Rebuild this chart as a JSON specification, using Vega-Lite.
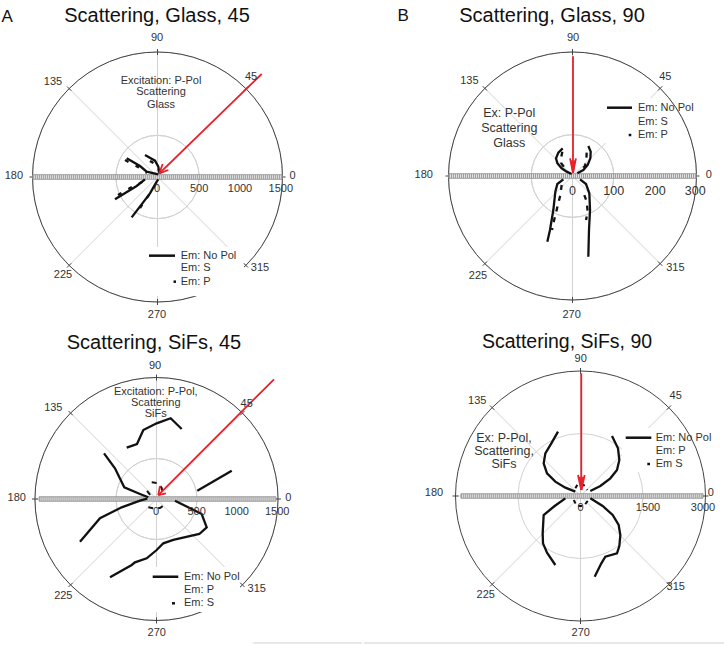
{
"$schema":"https://vega.github.io/schema/vega-lite/v6.json",
"padding":0,
"spacing":0,
"config":{"view":{"stroke":null},"font":"Liberation Sans","text":{"font":"Liberation Sans"}},
"vconcat":[
{"hconcat":[
{"width":362,"height":322,
"encoding":{"x":{"field":"x","type":"quantitative","scale":{"domain":[-1890,2454],"nice":false,"zero":false},"axis":null},"y":{"field":"y","type":"quantitative","scale":{"domain":[-1740,2124],"nice":false,"zero":false},"axis":null}},
"layer":[
{"data":{"values":[{"x":0,"y":0,"x2":1500,"y2":0},{"x":0,"y":0,"x2":1060.7,"y2":1060.7},{"x":0,"y":0,"x2":0,"y2":1500},{"x":0,"y":0,"x2":-1060.7,"y2":1060.7},{"x":0,"y":0,"x2":-1500,"y2":0},{"x":0,"y":0,"x2":-1060.7,"y2":-1060.7},{"x":0,"y":0,"x2":0,"y2":-1500},{"x":0,"y":0,"x2":1060.7,"y2":-1060.7}]},"mark":{"type":"rule","color":"#d2d2d2","strokeWidth":1},"encoding":{"x2":{"field":"x2"},"y2":{"field":"y2"}}},
{"data":{"values":[{"x":0,"y":0,"r":500},{"x":0,"y":0,"r":1000}]},"mark":{"type":"arc","theta":0,"theta2":6.2832,"filled":false,"stroke":"#d2d2d2","strokeWidth":1},"encoding":{"radius":{"field":"r","type":"quantitative","scale":{"type":"linear","domain":[0,1500],"range":[0,125],"zero":true},"legend":null}}},
{"data":{"values":[{"x":0,"y":0,"r":1500}]},"mark":{"type":"arc","theta":0,"theta2":6.2832,"filled":false,"stroke":"#444","strokeWidth":1},"encoding":{"radius":{"field":"r","type":"quantitative","scale":{"type":"linear","domain":[0,1500],"range":[0,125],"zero":true},"legend":null}}},
{"data":{"values":[{"x":-138,"x2":1038,"y":-840,"y2":-1428}]},"mark":{"type":"rect","fill":"white"},"encoding":{"x2":{"field":"x2"},"y2":{"field":"y2"}}},
{"data":{"values":[{"x":1464,"y":0,"x2":1536,"y2":0},{"x":1035.2,"y":1035.2,"x2":1086.1,"y2":1086.1},{"x":0,"y":1464,"x2":0,"y2":1536},{"x":-1035.2,"y":1035.2,"x2":-1086.1,"y2":1086.1},{"x":-1464,"y":0,"x2":-1536,"y2":0},{"x":-1035.2,"y":-1035.2,"x2":-1086.1,"y2":-1086.1},{"x":0,"y":-1464,"x2":0,"y2":-1536},{"x":1035.2,"y":-1035.2,"x2":1086.1,"y2":-1086.1}]},"mark":{"type":"rule","color":"#444","strokeWidth":1},"encoding":{"x2":{"field":"x2"},"y2":{"field":"y2"}}},
{"data":{"values":[{"x":-1500,"x2":1500,"y":-28,"y2":28}]},"mark":{"type":"rect","fill":"#e6e6e6","stroke":"#777","strokeWidth":0.7},"encoding":{"x2":{"field":"x2"},"y2":{"field":"y2"}}},
{"data":{"values":[{"x":-1496,"x2":1496,"y":0}]},"mark":{"type":"rule","color":"#9a9a9a","strokeWidth":4,"strokeDash":[1,1]},"encoding":{"x2":{"field":"x2"}}},
{"data":{"values":[{"s":"a","o":1,"x":-370,"y":224},{"s":"a","o":2,"x":-210,"y":132},{"s":"a","o":3,"x":-130,"y":64},{"s":"a","o":4,"x":10,"y":32},{"s":"b","o":1,"x":-150,"y":264},{"s":"b","o":2,"x":-30,"y":196},{"s":"b","o":3,"x":10,"y":124},{"s":"b","o":4,"x":22,"y":44},{"s":"c","o":1,"x":-510,"y":-268},{"s":"c","o":2,"x":-250,"y":-108},{"s":"c","o":3,"x":-150,"y":-28},{"s":"d","o":1,"x":-310,"y":-484},{"s":"d","o":2,"x":-90,"y":-196},{"s":"d","o":3,"x":-10,"y":-56},{"s":"d","o":4,"x":10,"y":-28}]},"mark":{"type":"line","color":"#111","strokeWidth":2.3},"encoding":{"detail":{"field":"s"},"order":{"field":"o"}}},
{"data":{"values":[{"s":"a","o":1,"x":-390,"y":204},{"s":"a","o":2,"x":-222,"y":114},{"s":"a","o":3,"x":-126,"y":48},{"s":"b","o":1,"x":-90,"y":192},{"s":"b","o":2,"x":-30,"y":156},{"s":"b","o":3,"x":6,"y":84},{"s":"c","o":1,"x":-474,"y":-216},{"s":"c","o":2,"x":-330,"y":-132},{"s":"c","o":3,"x":-162,"y":-48},{"s":"d","o":1,"x":-210,"y":-372},{"s":"d","o":2,"x":-78,"y":-180},{"s":"d","o":3,"x":-6,"y":-60}]},"mark":{"type":"line","color":"#111","strokeWidth":2.3,"strokeDash":[4,8]},"encoding":{"detail":{"field":"s"},"order":{"field":"o"}}},
{"data":{"values":[{"x":1250,"y":1236,"x2":22,"y2":44},{"x":62,"y":156,"x2":22,"y2":44},{"x":130,"y":84,"x2":22,"y2":44}]},"mark":{"type":"rule","color":"#e8202a","strokeWidth":1.8},"encoding":{"x2":{"field":"x2"},"y2":{"field":"y2"}}},
{"data":{"values":[{"x":-102,"x2":210,"y":-944},{"x":192,"x2":222,"y":-1256}]},"mark":{"type":"rule","color":"#111","strokeWidth":2.5},"encoding":{"x2":{"field":"x2"}}},
{"data":{"values":[{"t":"90","x":-6,"y":1668},{"t":"45","x":1122,"y":1200},{"t":"135","x":-1254,"y":1140},{"t":"180","x":-1724,"y":12},{"t":"0","x":1620,"y":12},{"t":"225","x":-1134,"y":-1176},{"t":"315","x":1230,"y":-1092},{"t":"270","x":-6,"y":-1656}]},"mark":{"type":"text","fontSize":11,"fill":"#333","align":"center","baseline":"middle"},"encoding":{"text":{"field":"t"}}},
{"data":{"values":[{"t":"0","x":-6,"y":-144},{"t":"500","x":500,"y":-144},{"t":"1000","x":990,"y":-144},{"t":"1500","x":1480,"y":-144}]},"mark":{"type":"text","fontSize":11,"fill":"#333","align":"center","baseline":"middle"},"encoding":{"text":{"field":"t"}}},
{"data":{"values":[{"t":"Em: No Pol","x":278,"y":-944},{"t":"Em: S","x":278,"y":-1096},{"t":"Em: P","x":278,"y":-1256}]},"mark":{"type":"text","fontSize":11,"fill":"#333","align":"left","baseline":"middle"},"encoding":{"text":{"field":"t"}}},
{"data":{"values":[{"t":"Excitation: P-Pol","x":42,"y":1156},{"t":"Scattering","x":42,"y":1016},{"t":"Glass","x":42,"y":864}]},"mark":{"type":"text","fontSize":11,"fill":"#333","align":"center","baseline":"middle"},"encoding":{"text":{"field":"t"}}},
{"data":{"values":[{"t":"Scattering, Glass, 45","x":-6,"y":1932}]},"mark":{"type":"text","fontSize":20,"fill":"#111","align":"center","baseline":"middle"},"encoding":{"text":{"field":"t"}}},
{"data":{"values":[{"t":"A","x":-1804,"y":1920}]},"mark":{"type":"text","fontSize":17,"fill":"#111","align":"center","baseline":"middle"},"encoding":{"text":{"field":"t"}}}
]},
{"width":362,"height":322,
"encoding":{"x":{"field":"x","type":"quantitative","scale":{"domain":[-509.4,366.6],"nice":false,"zero":false},"axis":null},"y":{"field":"y","type":"quantitative","scale":{"domain":[-353.3,425.9],"nice":false,"zero":false},"axis":null}},
"layer":[
{"data":{"values":[{"x":0,"y":0,"x2":300,"y2":0},{"x":0,"y":0,"x2":212.1,"y2":212.1},{"x":0,"y":0,"x2":0,"y2":300},{"x":0,"y":0,"x2":-212.1,"y2":212.1},{"x":0,"y":0,"x2":-300,"y2":0},{"x":0,"y":0,"x2":-212.1,"y2":-212.1},{"x":0,"y":0,"x2":0,"y2":-300},{"x":0,"y":0,"x2":212.1,"y2":-212.1}]},"mark":{"type":"rule","color":"#d2d2d2","strokeWidth":1},"encoding":{"x2":{"field":"x2"},"y2":{"field":"y2"}}},
{"data":{"values":[{"x":0,"y":0,"r":100},{"x":0,"y":0,"r":200}]},"mark":{"type":"arc","theta":0,"theta2":6.2832,"filled":false,"stroke":"#d2d2d2","strokeWidth":1},"encoding":{"radius":{"field":"r","type":"quantitative","scale":{"type":"linear","domain":[0,300],"range":[0,124],"zero":true},"legend":null}}},
{"data":{"values":[{"x":0,"y":0,"r":300}]},"mark":{"type":"arc","theta":0,"theta2":6.2832,"filled":false,"stroke":"#444","strokeWidth":1},"encoding":{"radius":{"field":"r","type":"quantitative","scale":{"type":"linear","domain":[0,300],"range":[0,124],"zero":true},"legend":null}}},
{"data":{"values":[{"x":73.8,"x2":211.8,"y":79.9,"y2":188.8}]},"mark":{"type":"rect","fill":"white"},"encoding":{"x2":{"field":"x2"},"y2":{"field":"y2"}}},
{"data":{"values":[{"x":292.7,"y":0,"x2":307.3,"y2":0},{"x":207,"y":207,"x2":217.3,"y2":217.3},{"x":0,"y":292.7,"x2":0,"y2":307.3},{"x":-207,"y":207,"x2":-217.3,"y2":217.3},{"x":-292.7,"y":0,"x2":-307.3,"y2":0},{"x":-207,"y":-207,"x2":-217.3,"y2":-217.3},{"x":0,"y":-292.7,"x2":0,"y2":-307.3},{"x":207,"y":-207,"x2":217.3,"y2":-217.3}]},"mark":{"type":"rule","color":"#444","strokeWidth":1},"encoding":{"x2":{"field":"x2"},"y2":{"field":"y2"}}},
{"data":{"values":[{"x":-300,"x2":300,"y":-5.6,"y2":5.6}]},"mark":{"type":"rect","fill":"#e6e6e6","stroke":"#777","strokeWidth":0.7},"encoding":{"x2":{"field":"x2"},"y2":{"field":"y2"}}},
{"data":{"values":[{"x":-299,"x2":299,"y":0}]},"mark":{"type":"rule","color":"#9a9a9a","strokeWidth":4,"strokeDash":[1,1]},"encoding":{"x2":{"field":"x2"}}},
{"data":{"values":[{"s":"a","o":1,"x":-23.8,"y":67},{"s":"a","o":2,"x":-34.3,"y":56.5},{"s":"a","o":3,"x":-39.9,"y":42.8},{"s":"a","o":4,"x":-36.7,"y":30.7},{"s":"a","o":5,"x":-26.2,"y":18.6},{"s":"a","o":6,"x":-14.1,"y":10.5},{"s":"a","o":7,"x":-2,"y":4.8},{"s":"b","o":1,"x":38.3,"y":72.6},{"s":"b","o":2,"x":44,"y":58.9},{"s":"b","o":3,"x":43.2,"y":42.8},{"s":"b","o":4,"x":36.7,"y":26.6},{"s":"b","o":5,"x":26.2,"y":14.5},{"s":"b","o":6,"x":11.7,"y":6.5},{"s":"c","o":1,"x":-22.2,"y":-8.1},{"s":"c","o":2,"x":-36.7,"y":-19.4},{"s":"c","o":3,"x":-41.5,"y":-37.9},{"s":"c","o":4,"x":-46.4,"y":-82.3},{"s":"c","o":5,"x":-54.5,"y":-130.7},{"s":"c","o":6,"x":-60.9,"y":-158.9},{"s":"d","o":1,"x":18.2,"y":-8.1},{"s":"d","o":2,"x":32.7,"y":-19.4},{"s":"d","o":3,"x":40.7,"y":-41.9},{"s":"d","o":4,"x":42.4,"y":-82.3},{"s":"d","o":5,"x":39.9,"y":-130.7},{"s":"d","o":6,"x":38.3,"y":-195.2}]},"mark":{"type":"line","color":"#111","strokeWidth":2.3},"encoding":{"detail":{"field":"s"},"order":{"field":"o"}}},
{"data":{"values":[{"s":"a","o":1,"x":-24.6,"y":58.9},{"s":"a","o":2,"x":-27.8,"y":42.8},{"s":"a","o":3,"x":-27,"y":30.7},{"s":"a","o":4,"x":-18.2,"y":18.6},{"s":"b","o":1,"x":34.3,"y":56.5},{"s":"b","o":2,"x":33.5,"y":40.3},{"s":"b","o":3,"x":30.3,"y":24.2},{"s":"b","o":4,"x":22.2,"y":16.1},{"s":"c","o":1,"x":-26.2,"y":-21.8},{"s":"c","o":2,"x":-29.4,"y":-46},{"s":"c","o":3,"x":-46.4,"y":-114.5},{"s":"c","o":4,"x":-49.6,"y":-130.7},{"s":"d","o":1,"x":28.6,"y":-46},{"s":"d","o":2,"x":34.3,"y":-62.1},{"s":"d","o":3,"x":36.7,"y":-86.3},{"s":"d","o":4,"x":32.7,"y":-106.5}]},"mark":{"type":"line","color":"#111","strokeWidth":2.3,"strokeDash":[5,6]},"encoding":{"detail":{"field":"s"},"order":{"field":"o"}}},
{"data":{"values":[{"x":1.2,"y":290,"x2":1.2,"y2":8},{"x":-6,"y":42.8,"x2":1.2,"y2":8},{"x":8.4,"y":42.8,"x2":1.2,"y2":8},{"x":-2.4,"y":38,"x2":1.2,"y2":8},{"x":4.8,"y":38,"x2":1.2,"y2":8}]},"mark":{"type":"rule","color":"#e8202a","strokeWidth":1.8},"encoding":{"x2":{"field":"x2"},"y2":{"field":"y2"}}},
{"data":{"values":[{"x":83.5,"x2":144,"y":165.3},{"x":136,"x2":142.3,"y":99.2}]},"mark":{"type":"rule","color":"#111","strokeWidth":2.5},"encoding":{"x2":{"field":"x2"}}},
{"data":{"values":[{"t":"90","x":1.2,"y":334.7},{"t":"45","x":224.6,"y":238.8},{"t":"135","x":-249.7,"y":229.9},{"t":"180","x":-360,"y":2.4},{"t":"0","x":329.6,"y":2.4},{"t":"225","x":-228.7,"y":-242},{"t":"315","x":248.8,"y":-223.4},{"t":"270","x":-2,"y":-335.7}]},"mark":{"type":"text","fontSize":11,"fill":"#333","align":"center","baseline":"middle"},"encoding":{"text":{"field":"t"}}},
{"data":{"values":[{"t":"0","x":0,"y":-36.3},{"t":"100","x":99.7,"y":-36.3},{"t":"200","x":200,"y":-36.3},{"t":"300","x":297,"y":-36.3}]},"mark":{"type":"text","fontSize":12.5,"fill":"#333","align":"center","baseline":"middle"},"encoding":{"text":{"field":"t"}}},
{"data":{"values":[{"t":"Em: No Pol","x":158.5,"y":165.3},{"t":"Em: S","x":158.5,"y":131.4},{"t":"Em: P","x":158.5,"y":99.2}]},"mark":{"type":"text","fontSize":11,"fill":"#333","align":"left","baseline":"middle"},"encoding":{"text":{"field":"t"}}},
{"data":{"values":[{"t":"Ex: P-Pol","x":-153,"y":151.7},{"t":"Scattering","x":-153,"y":115.4},{"t":"Glass","x":-153,"y":79.1}]},"mark":{"type":"text","fontSize":12.5,"fill":"#333","align":"center","baseline":"middle"},"encoding":{"text":{"field":"t"}}},
{"data":{"values":[{"t":"Scattering, Glass, 90","x":-49.6,"y":387}]},"mark":{"type":"text","fontSize":20,"fill":"#111","align":"center","baseline":"middle"},"encoding":{"text":{"field":"t"}}},
{"data":{"values":[{"t":"B","x":-409.5,"y":387}]},"mark":{"type":"text","fontSize":17,"fill":"#111","align":"center","baseline":"middle"},"encoding":{"text":{"field":"t"}}}
]}
],"spacing":0},
{"hconcat":[
{"width":362,"height":323,
"encoding":{"x":{"field":"x","type":"quantitative","scale":{"domain":[-1932.8,2537.9],"nice":false,"zero":false},"axis":null},"y":{"field":"y","type":"quantitative","scale":{"domain":[-1803.1,2186],"nice":false,"zero":false},"axis":null}},
"layer":[
{"data":{"values":[{"x":0,"y":0,"x2":1500,"y2":0},{"x":0,"y":0,"x2":1060.7,"y2":1060.7},{"x":0,"y":0,"x2":0,"y2":1500},{"x":0,"y":0,"x2":-1060.7,"y2":1060.7},{"x":0,"y":0,"x2":-1500,"y2":0},{"x":0,"y":0,"x2":-1060.7,"y2":-1060.7},{"x":0,"y":0,"x2":0,"y2":-1500},{"x":0,"y":0,"x2":1060.7,"y2":-1060.7}]},"mark":{"type":"rule","color":"#d2d2d2","strokeWidth":1},"encoding":{"x2":{"field":"x2"},"y2":{"field":"y2"}}},
{"data":{"values":[{"x":0,"y":0,"r":500},{"x":0,"y":0,"r":1000}]},"mark":{"type":"arc","theta":0,"theta2":6.2832,"filled":false,"stroke":"#d2d2d2","strokeWidth":1},"encoding":{"radius":{"field":"r","type":"quantitative","scale":{"type":"linear","domain":[0,1500],"range":[0,121.5],"zero":true},"legend":null}}},
{"data":{"values":[{"x":0,"y":0,"r":1500}]},"mark":{"type":"arc","theta":0,"theta2":6.2832,"filled":false,"stroke":"#444","strokeWidth":1},"encoding":{"radius":{"field":"r","type":"quantitative","scale":{"type":"linear","domain":[0,1500],"range":[0,121.5],"zero":true},"legend":null}}},
{"data":{"values":[{"x":-105,"x2":1031,"y":-840,"y2":-1396}]},"mark":{"type":"rect","fill":"white"},"encoding":{"x2":{"field":"x2"},"y2":{"field":"y2"}}},
{"data":{"values":[{"x":1463,"y":0,"x2":1537,"y2":0},{"x":1034.5,"y":1034.5,"x2":1086.8,"y2":1086.8},{"x":0,"y":1463,"x2":0,"y2":1537},{"x":-1034.5,"y":1034.5,"x2":-1086.8,"y2":1086.8},{"x":-1463,"y":0,"x2":-1537,"y2":0},{"x":-1034.5,"y":-1034.5,"x2":-1086.8,"y2":-1086.8},{"x":0,"y":-1463,"x2":0,"y2":-1537},{"x":1034.5,"y":-1034.5,"x2":1086.8,"y2":-1086.8}]},"mark":{"type":"rule","color":"#444","strokeWidth":1},"encoding":{"x2":{"field":"x2"},"y2":{"field":"y2"}}},
{"data":{"values":[{"x":-1450,"x2":1475,"y":-28,"y2":28}]},"mark":{"type":"rect","fill":"#e6e6e6","stroke":"#777","strokeWidth":0.7},"encoding":{"x2":{"field":"x2"},"y2":{"field":"y2"}}},
{"data":{"values":[{"x":-1446,"x2":1471,"y":0}]},"mark":{"type":"rule","color":"#9a9a9a","strokeWidth":4,"strokeDash":[1,1]},"encoding":{"x2":{"field":"x2"}}},
{"data":{"values":[{"x":1192,"x2":2538,"y":-1778}]},"mark":{"type":"rule","color":"#cfcfcf","strokeWidth":1},"encoding":{"x2":{"field":"x2"}}},
{"data":{"values":[{"s":"a","o":1,"x":-368,"y":634},{"s":"a","o":2,"x":-241,"y":679},{"s":"a","o":3,"x":-163,"y":852},{"s":"a","o":4,"x":2,"y":935},{"s":"a","o":5,"x":175,"y":997},{"s":"a","o":6,"x":311,"y":865},{"s":"b","o":1,"x":-648,"y":564},{"s":"b","o":2,"x":-513,"y":379},{"s":"b","o":3,"x":-398,"y":144},{"s":"b","o":4,"x":-204,"y":62},{"s":"b","o":5,"x":-101,"y":21},{"s":"c","o":1,"x":504,"y":103},{"s":"c","o":2,"x":929,"y":350},{"s":"d","o":1,"x":-945,"y":-527},{"s":"d","o":2,"x":-698,"y":-238},{"s":"d","o":3,"x":-430,"y":-103},{"s":"d","o":4,"x":-204,"y":-21},{"s":"d","o":5,"x":-114,"y":4},{"s":"e","o":1,"x":228,"y":-21},{"s":"e","o":2,"x":558,"y":-185},{"s":"e","o":3,"x":620,"y":-350},{"s":"e","o":4,"x":529,"y":-432},{"s":"e","o":5,"x":207,"y":-506},{"s":"e","o":6,"x":84,"y":-547},{"s":"e","o":7,"x":2,"y":-630},{"s":"e","o":8,"x":-121,"y":-732},{"s":"e","o":9,"x":-266,"y":-782},{"s":"e","o":10,"x":-306,"y":-815},{"s":"e","o":11,"x":-574,"y":-967}]},"mark":{"type":"line","color":"#111","strokeWidth":2.3},"encoding":{"detail":{"field":"s"},"order":{"field":"o"}}},
{"data":{"values":[{"s":"a","o":1,"x":-59,"y":206},{"s":"a","o":2,"x":19,"y":194},{"s":"a","o":3,"x":64,"y":136},{"s":"a","o":4,"x":80,"y":49},{"s":"b","o":1,"x":-101,"y":-103},{"s":"b","o":2,"x":-43,"y":-115},{"s":"b","o":3,"x":43,"y":-111},{"s":"b","o":4,"x":117,"y":-62},{"s":"c","o":1,"x":-117,"y":99},{"s":"c","o":2,"x":-68,"y":37}]},"mark":{"type":"line","color":"#111","strokeWidth":2,"strokeDash":[5,5]},"encoding":{"detail":{"field":"s"},"order":{"field":"o"}}},
{"data":{"values":[{"x":1451,"y":1478,"x2":22,"y2":49},{"x":43,"y":160,"x2":22,"y2":49},{"x":117,"y":70,"x2":22,"y2":49}]},"mark":{"type":"rule","color":"#e8202a","strokeWidth":1.8},"encoding":{"x2":{"field":"x2"},"y2":{"field":"y2"}}},
{"data":{"values":[{"x":-47,"x2":269,"y":-960},{"x":191,"x2":228,"y":-1288}]},"mark":{"type":"rule","color":"#111","strokeWidth":2.5},"encoding":{"x2":{"field":"x2"}}},
{"data":{"values":[{"t":"90","x":-18.5,"y":1642.6},{"t":"45","x":1114,"y":1169.5},{"t":"135","x":-1274.5,"y":1120},{"t":"180","x":-1726.5,"y":8.6},{"t":"0","x":1627.7,"y":8.6},{"t":"225","x":-1151,"y":-1198},{"t":"315","x":1237.5,"y":-1115},{"t":"270","x":2.5,"y":-1651}]},"mark":{"type":"text","fontSize":11,"fill":"#333","align":"center","baseline":"middle"},"encoding":{"text":{"field":"t"}}},
{"data":{"values":[{"t":"0","x":-6,"y":-160},{"t":"500","x":496,"y":-160},{"t":"1000","x":990,"y":-160},{"t":"1500","x":1490,"y":-160}]},"mark":{"type":"text","fontSize":11,"fill":"#333","align":"center","baseline":"middle"},"encoding":{"text":{"field":"t"}}},
{"data":{"values":[{"t":"Em: No Pol","x":340,"y":-960},{"t":"Em: P","x":340,"y":-1124},{"t":"Em: S","x":340,"y":-1288}]},"mark":{"type":"text","fontSize":11,"fill":"#333","align":"left","baseline":"middle"},"encoding":{"text":{"field":"t"}}},
{"data":{"values":[{"t":"Excitation: P-Pol,","x":-9,"y":1325},{"t":"Scattering","x":-9,"y":1182},{"t":"SiFs","x":-9,"y":1046}]},"mark":{"type":"text","fontSize":11,"fill":"#333","align":"center","baseline":"middle"},"encoding":{"text":{"field":"t"}}},
{"data":{"values":[{"t":"Scattering, SiFs, 45","x":-31,"y":1927}]},"mark":{"type":"text","fontSize":20,"fill":"#111","align":"center","baseline":"middle"},"encoding":{"text":{"field":"t"}}}
]},
{"width":362,"height":323,
"encoding":{"x":{"field":"x","type":"quantitative","scale":{"domain":[-5196,3492],"nice":false,"zero":false},"axis":null},"y":{"field":"y","type":"quantitative","scale":{"domain":[-3576,4176],"nice":false,"zero":false},"axis":null}},
"layer":[
{"data":{"values":[{"x":0,"y":0,"x2":3000,"y2":0},{"x":0,"y":0,"x2":2121.3,"y2":2121.3},{"x":0,"y":0,"x2":0,"y2":3000},{"x":0,"y":0,"x2":-2121.3,"y2":2121.3},{"x":0,"y":0,"x2":-3000,"y2":0},{"x":0,"y":0,"x2":-2121.3,"y2":-2121.3},{"x":0,"y":0,"x2":0,"y2":-3000},{"x":0,"y":0,"x2":2121.3,"y2":-2121.3}]},"mark":{"type":"rule","color":"#d2d2d2","strokeWidth":1},"encoding":{"x2":{"field":"x2"},"y2":{"field":"y2"}}},
{"data":{"values":[{"x":0,"y":0,"r":1500}]},"mark":{"type":"arc","theta":0,"theta2":6.2832,"filled":false,"stroke":"#d2d2d2","strokeWidth":1},"encoding":{"radius":{"field":"r","type":"quantitative","scale":{"type":"linear","domain":[0,3000],"range":[0,125],"zero":true},"legend":null}}},
{"data":{"values":[{"x":0,"y":0,"r":3000}]},"mark":{"type":"arc","theta":0,"theta2":6.2832,"filled":false,"stroke":"#444","strokeWidth":1},"encoding":{"radius":{"field":"r","type":"quantitative","scale":{"type":"linear","domain":[0,3000],"range":[0,125],"zero":true},"legend":null}}},
{"data":{"values":[{"x":996,"x2":2436,"y":576,"y2":1632}]},"mark":{"type":"rect","fill":"white"},"encoding":{"x2":{"field":"x2"},"y2":{"field":"y2"}}},
{"data":{"values":[{"x":2928,"y":0,"x2":3072,"y2":0},{"x":2070.4,"y":2070.4,"x2":2172.2,"y2":2172.2},{"x":0,"y":2928,"x2":0,"y2":3072},{"x":-2070.4,"y":2070.4,"x2":-2172.2,"y2":2172.2},{"x":-2928,"y":0,"x2":-3072,"y2":0},{"x":-2070.4,"y":-2070.4,"x2":-2172.2,"y2":-2172.2},{"x":0,"y":-2928,"x2":0,"y2":-3072},{"x":2070.4,"y":-2070.4,"x2":2172.2,"y2":-2172.2}]},"mark":{"type":"rule","color":"#444","strokeWidth":1},"encoding":{"x2":{"field":"x2"},"y2":{"field":"y2"}}},
{"data":{"values":[{"x":-2870,"x2":2940,"y":-55,"y2":55}]},"mark":{"type":"rect","fill":"#e6e6e6","stroke":"#777","strokeWidth":0.7},"encoding":{"x2":{"field":"x2"},"y2":{"field":"y2"}}},
{"data":{"values":[{"x":-2862,"x2":2932,"y":0}]},"mark":{"type":"rule","color":"#9a9a9a","strokeWidth":4,"strokeDash":[1,1]},"encoding":{"x2":{"field":"x2"}}},
{"data":{"values":[{"x":-5196,"x2":3492,"y":-3528}]},"mark":{"type":"rule","color":"#cfcfcf","strokeWidth":1},"encoding":{"x2":{"field":"x2"}}},
{"data":{"values":[{"s":"a","o":1,"x":-540,"y":1544},{"s":"a","o":2,"x":-700,"y":1264},{"s":"a","o":3,"x":-844,"y":1024},{"s":"a","o":4,"x":-884,"y":784},{"s":"a","o":5,"x":-804,"y":544},{"s":"a","o":6,"x":-604,"y":344},{"s":"a","o":7,"x":-364,"y":200},{"s":"a","o":8,"x":-124,"y":104},{"s":"b","o":1,"x":756,"y":1440},{"s":"b","o":2,"x":900,"y":1144},{"s":"b","o":3,"x":932,"y":864},{"s":"b","o":4,"x":876,"y":624},{"s":"b","o":5,"x":716,"y":424},{"s":"b","o":6,"x":476,"y":240},{"s":"b","o":7,"x":236,"y":120},{"s":"c","o":1,"x":-364,"y":-56},{"s":"c","o":2,"x":-620,"y":-240},{"s":"c","o":3,"x":-884,"y":-456},{"s":"c","o":4,"x":-908,"y":-896},{"s":"c","o":5,"x":-900,"y":-1136},{"s":"c","o":6,"x":-804,"y":-1360},{"s":"c","o":7,"x":-604,"y":-1656},{"s":"d","o":1,"x":236,"y":-56},{"s":"d","o":2,"x":532,"y":-240},{"s":"d","o":3,"x":772,"y":-456},{"s":"d","o":4,"x":916,"y":-696},{"s":"d","o":5,"x":956,"y":-936},{"s":"d","o":6,"x":932,"y":-1200},{"s":"d","o":7,"x":876,"y":-1376},{"s":"d","o":8,"x":596,"y":-1456},{"s":"d","o":9,"x":500,"y":-1616},{"s":"d","o":10,"x":340,"y":-1936}]},"mark":{"type":"line","color":"#111","strokeWidth":2.3},"encoding":{"detail":{"field":"s"},"order":{"field":"o"}}},
{"data":{"values":[{"s":"a","o":1,"x":-124,"y":184},{"s":"a","o":2,"x":-68,"y":280},{"s":"a","o":3,"x":76,"y":264},{"s":"a","o":4,"x":164,"y":144},{"s":"b","o":1,"x":-164,"y":-96},{"s":"b","o":2,"x":-84,"y":-240},{"s":"b","o":3,"x":76,"y":-240},{"s":"b","o":4,"x":180,"y":-112}]},"mark":{"type":"line","color":"#111","strokeWidth":2,"strokeDash":[4,4]},"encoding":{"detail":{"field":"s"},"order":{"field":"o"}}},
{"data":{"values":[{"x":19,"y":2945,"x2":19,"y2":144},{"x":-60,"y":504,"x2":19,"y2":144},{"x":100,"y":504,"x2":19,"y2":144},{"x":-20,"y":460,"x2":19,"y2":144},{"x":58,"y":460,"x2":19,"y2":144}]},"mark":{"type":"rule","color":"#e8202a","strokeWidth":1.8},"encoding":{"x2":{"field":"x2"},"y2":{"field":"y2"}}},
{"data":{"values":[{"x":1085,"x2":1699,"y":1399},{"x":1603,"x2":1668,"y":768}]},"mark":{"type":"rule","color":"#111","strokeWidth":2.5},"encoding":{"x2":{"field":"x2"}}},
{"data":{"values":[{"t":"90","x":5,"y":3295},{"t":"45","x":2285,"y":2400},{"t":"135","x":-2477,"y":2287},{"t":"180","x":-3516,"y":65},{"t":"0","x":3125,"y":65},{"t":"225","x":-2275,"y":-2376},{"t":"315","x":2285,"y":-2191},{"t":"270","x":5,"y":-3295}]},"mark":{"type":"text","fontSize":11,"fill":"#333","align":"center","baseline":"middle"},"encoding":{"text":{"field":"t"}}},
{"data":{"values":[{"t":"0","x":0,"y":-295},{"t":"1500","x":1620,"y":-295},{"t":"3000","x":2940,"y":-295}]},"mark":{"type":"text","fontSize":11,"fill":"#333","align":"center","baseline":"middle"},"encoding":{"text":{"field":"t"}}},
{"data":{"values":[{"t":"Em: No Pol","x":1805,"y":1399},{"t":"Em: P","x":1805,"y":1087},{"t":"Em S","x":1805,"y":768}]},"mark":{"type":"text","fontSize":11,"fill":"#333","align":"left","baseline":"middle"},"encoding":{"text":{"field":"t"}}},
{"data":{"values":[{"t":"Ex: P-Pol,","x":-1836,"y":1399},{"t":"Scattering,","x":-1836,"y":1080},{"t":"SiFs","x":-1836,"y":761}]},"mark":{"type":"text","fontSize":12.5,"fill":"#333","align":"center","baseline":"middle"},"encoding":{"text":{"field":"t"}}},
{"data":{"values":[{"t":"Scattering, SiFs, 90","x":-324,"y":3700}]},"mark":{"type":"text","fontSize":19.5,"fill":"#111","align":"center","baseline":"middle"},"encoding":{"text":{"field":"t"}}}
]}
],"spacing":0}
]
}
